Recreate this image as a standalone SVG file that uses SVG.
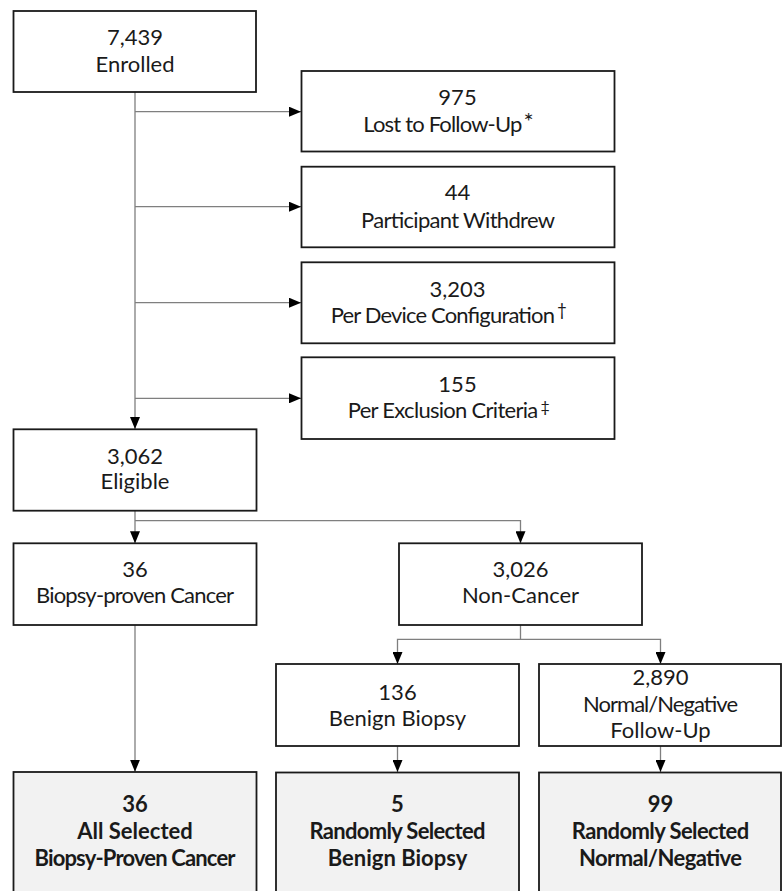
<svg xmlns="http://www.w3.org/2000/svg" width="782" height="891" viewBox="0 0 782 891">
<style>
.box{fill:#fff;stroke:#1a1a1a;stroke-width:1.8}
.sel{fill:#f2f2f2;stroke:#1a1a1a;stroke-width:1.8}
.con{fill:none;stroke:#7f7f7f;stroke-width:1.3}
text{font-family:Lato,"Open Sans","Liberation Sans",sans-serif;font-size:22px;fill:#1a1a1a;text-anchor:middle}
.b{font-weight:bold}
.st{text-anchor:start}
.sup{text-anchor:start;font-size:17px}
</style>
<defs>
<marker id="arr" markerWidth="12" markerHeight="10" refX="12" refY="5" orient="auto" markerUnits="userSpaceOnUse">
<path d="M0,0 L12,5 L0,10 z" fill="#000"/>
</marker>
</defs>
<g id="connectors">
<path class="con" d="M135,92 V429" marker-end="url(#arr)"/>
<path class="con" d="M135,111.7 H301" marker-end="url(#arr)"/>
<path class="con" d="M135,206.7 H301" marker-end="url(#arr)"/>
<path class="con" d="M135,302.7 H301" marker-end="url(#arr)"/>
<path class="con" d="M135,398.3 H301" marker-end="url(#arr)"/>
<path class="con" d="M135,510.7 V543.3" marker-end="url(#arr)"/>
<path class="con" d="M135,520.7 H520.5 V543.3" marker-end="url(#arr)"/>
<path class="con" d="M135,625 V771.7" marker-end="url(#arr)"/>
<path class="con" d="M520.5,625 V639.3 H397.5 V664" marker-end="url(#arr)"/>
<path class="con" d="M520.5,639.3 H660.5 V664" marker-end="url(#arr)"/>
<path class="con" d="M397.5,746 V772" marker-end="url(#arr)"/>
<path class="con" d="M660.5,746 V772" marker-end="url(#arr)"/>
</g>
<g id="enrolled">
<rect class="box" x="13.5" y="11" width="242.5" height="81"/>
<text x="135" y="45">7,439</text>
<text x="135" y="72">Enrolled</text>
</g>
<g id="lost">
<rect class="box" x="301.5" y="71" width="313" height="80.5"/>
<text x="457.5" y="105">975</text>
<text class="st" x="363.3" y="131.7" textLength="159">Lost to Follow-Up</text>
<text class="sup" x="523.5" y="130" style="font-size:24px">*</text>
</g>
<g id="withdrew">
<rect class="box" x="301.5" y="166.7" width="313" height="80.6"/>
<text x="457.5" y="200">44</text>
<text x="458" y="227.7" textLength="194">Participant Withdrew</text>
</g>
<g id="device">
<rect class="box" x="301.5" y="262.3" width="313" height="81"/>
<text x="457.5" y="296.7">3,203</text>
<text class="st" x="330.7" y="322.7" textLength="224.3">Per Device Configuration</text>
<text class="sup" x="557" y="316">†</text>
</g>
<g id="exclusion">
<rect class="box" x="301.5" y="357.3" width="313" height="81.7"/>
<text x="457.5" y="391.7">155</text>
<text class="st" x="347.7" y="418.3" textLength="190.6">Per Exclusion Criteria</text>
<text class="sup" x="540.5" y="412" style="font-size:16px">‡</text>
</g>
<g id="eligible">
<rect class="box" x="13.5" y="429.3" width="243" height="81.4"/>
<text x="135" y="464">3,062</text>
<text x="135" y="489.3">Eligible</text>
</g>
<g id="cancer">
<rect class="box" x="13.5" y="543.3" width="243" height="81.7"/>
<text x="135" y="576.7">36</text>
<text x="135" y="603.3" textLength="198">Biopsy-proven Cancer</text>
</g>
<g id="noncancer">
<rect class="box" x="399" y="543.3" width="243" height="81.7"/>
<text x="520.5" y="576.7">3,026</text>
<text x="520.5" y="603.3">Non-Cancer</text>
</g>
<g id="benign">
<rect class="box" x="276" y="664" width="243" height="82"/>
<text x="397.5" y="700">136</text>
<text x="397.5" y="726">Benign Biopsy</text>
</g>
<g id="normal">
<rect class="box" x="539" y="664" width="242" height="82"/>
<text x="660.5" y="685">2,890</text>
<text x="660.5" y="711.7" textLength="155">Normal/Negative</text>
<text x="660.5" y="738.3">Follow-Up</text>
</g>
<g id="sel-cancer">
<rect class="sel" x="13.5" y="772" width="243" height="125"/>
<text class="b" x="135" y="812.3">36</text>
<text class="b" x="135" y="839">All Selected</text>
<text class="b" x="135" y="865.7" textLength="201">Biopsy-Proven Cancer</text>
</g>
<g id="sel-benign">
<rect class="sel" x="276" y="772.5" width="243" height="125"/>
<text class="b" x="397.5" y="812.3">5</text>
<text class="b" x="397.5" y="839" textLength="176">Randomly Selected</text>
<text class="b" x="397.5" y="865.7">Benign Biopsy</text>
</g>
<g id="sel-normal">
<rect class="sel" x="539" y="772.5" width="242" height="125"/>
<text class="b" x="660.5" y="812.3">99</text>
<text class="b" x="660.5" y="839" textLength="177.5">Randomly Selected</text>
<text class="b" x="660.5" y="865.7" textLength="163">Normal/Negative</text>
</g>
</svg>
